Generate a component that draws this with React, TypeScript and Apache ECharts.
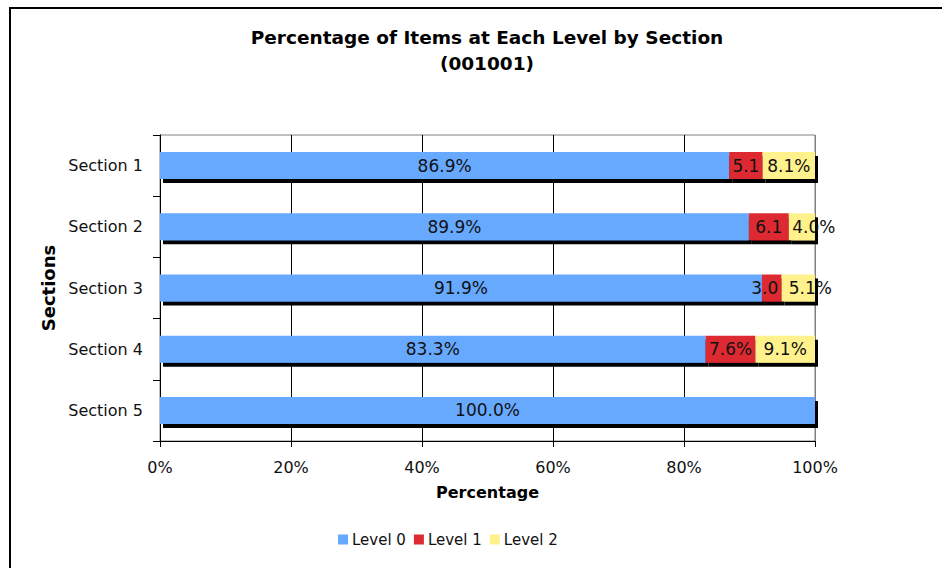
import React, { useEffect, useRef } from "react";
import * as echarts from "echarts";

const sections = ["Section 1", "Section 2", "Section 3", "Section 4", "Section 5"];
const level0 = [86.9, 89.9, 91.9, 83.3, 100.0];
const level1 = [5.1, 6.1, 3.0, 7.6, 0];
const level2 = [8.1, 4.0, 5.1, 9.1, 0];
const xTicks = [0, 20, 40, 60, 80, 100];

const FONT = "DejaVu Sans";
const colors = ["#66A9FF", "#DD2B33", "#FFF18C"];

export default function App() {
  const ref = useRef<HTMLDivElement>(null);
  useEffect(() => {
    if (!ref.current) return;
    const chart = echarts.init(ref.current, undefined, { renderer: "svg" });
    const mkSeries = (
      name: string,
      values: number[],
      idx: number,
      narrowNoPct: boolean,
      shift: (v: number) => number
    ) => ({
      name,
      type: "bar",
      stack: "total",
      barWidth: 27,
      data: values.map((v) => ({ value: v, label: { offset: [shift(v), 0] } })),
      itemStyle: {
        color: colors[idx],
        shadowColor: "#000",
        shadowBlur: 0,
        shadowOffsetX: 3,
        shadowOffsetY: 4,
      },
      label: {
        show: true,
        position: "inside",
        color: "#111",
        fontFamily: FONT,
        fontSize: 17,
        formatter: (p: any) => {
          const v = p.value as number;
          if (!v) return "";
          if (narrowNoPct && v < 7) return v.toFixed(1);
          return v.toFixed(1) + "%";
        },
      },
    });
    chart.setOption({
      animation: false,
      textStyle: { fontFamily: FONT },
      title: {
        text: "Percentage of Items at Each Level by Section\n(001001)",
        left: 487,
        top: 24,
        textAlign: "center",
        padding: 0,
        textStyle: { fontFamily: FONT, fontWeight: "bold", fontSize: 18.5, lineHeight: 26, color: "#000" },
      },
      legend: {
        left: 338,
        top: 532,
        padding: 0,
        itemWidth: 10,
        itemHeight: 10,
        itemGap: 8,
        icon: "rect",
        textStyle: { fontFamily: FONT, fontSize: 15, color: "#111", padding: [0, 0, 0, -1] },
        data: ["Level 0", "Level 1", "Level 2"],
      },
      grid: {
        left: 160,
        right: 127,
        top: 135,
        bottom: 127,
        show: true,
        borderColor: "#808080",
        borderWidth: 1,
      },
      xAxis: {
        type: "value",
        min: xTicks[0],
        max: xTicks[xTicks.length - 1],
        interval: 20,
        name: "Percentage",
        nameLocation: "middle",
        nameGap: 43,
        nameTextStyle: { fontFamily: FONT, fontWeight: "bold", fontSize: 16, color: "#000" },
        axisLine: { show: true, lineStyle: { color: "#000", width: 1 } },
        axisTick: { show: true, length: 6, lineStyle: { color: "#000" } },
        axisLabel: {
          formatter: "{value}%",
          margin: 18,
          fontFamily: FONT,
          fontSize: 16,
          color: "#111",
        },
        splitLine: {
          show: true,
          lineStyle: { color: ["#000", "#000", "#000", "#000", "#000", "#808080"], width: 1 },
        },
      },
      yAxis: {
        type: "category",
        inverse: true,
        data: sections,
        name: "Sections",
        nameLocation: "middle",
        nameGap: 100,
        nameTextStyle: { fontFamily: FONT, fontWeight: "bold", fontSize: 18, color: "#000" },
        axisLine: { show: true, lineStyle: { color: "#000", width: 1 } },
        axisTick: { show: true, length: 7, lineStyle: { color: "#000" } },
        axisLabel: { margin: 17, fontFamily: FONT, fontSize: 16, color: "#111" },
      },
      graphic: [
        {
          type: "polyline",
          shape: { points: [[10, 700], [10, 8], [1000, 8]] },
          style: { stroke: "#000", lineWidth: 2, fill: "none" },
          silent: true,
        },
      ],
      series: [
        mkSeries("Level 0", level0, 0, false, () => 0),
        mkSeries("Level 1", level1, 1, true, (v) => (v > 0 && v < 4 ? -7 : 0)),
        mkSeries("Level 2", level2, 2, false, (v) => (v > 0 && v < 6 ? 12 : 0)),
      ],
    });
    return () => chart.dispose();
  }, []);
  return (
    <div
      ref={ref}
      style={{ position: "fixed", left: 0, top: 0, width: 942, height: 568, background: "#fff" }}
    />
  );
}
